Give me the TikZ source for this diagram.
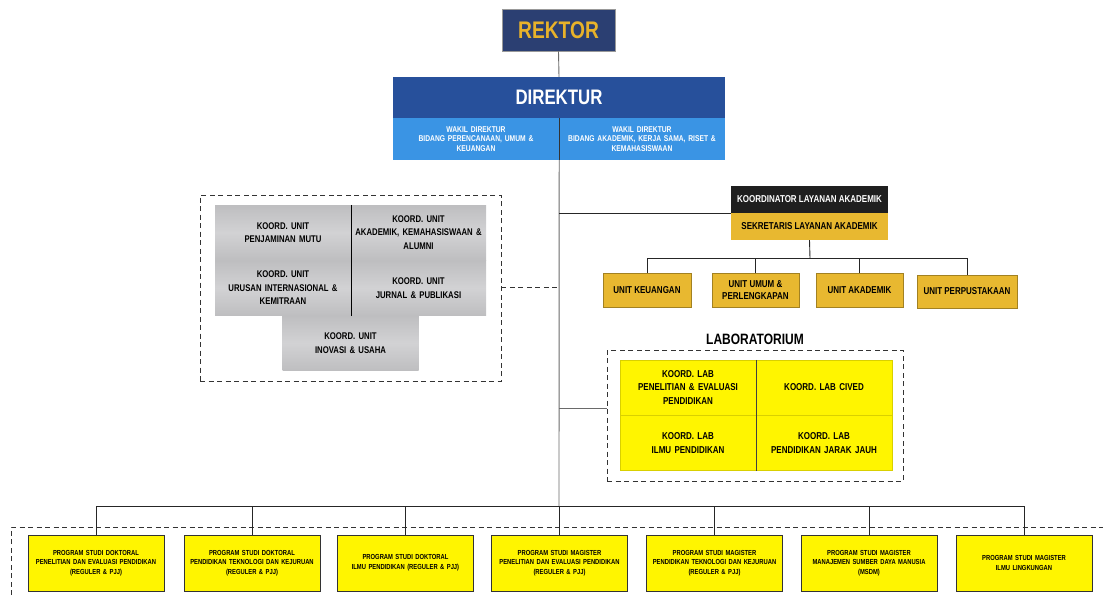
\documentclass[tikz,border=0pt]{standalone}
\usepackage{fontspec}
\setmainfont{Liberation Sans}[FakeStretch=0.8]
\usepackage{tikz}
\usetikzlibrary{positioning}

\definecolor{navy}{HTML}{2B3F72}
\definecolor{dirblue}{HTML}{27509B}
\definecolor{wakblue}{HTML}{3A94E4}
\definecolor{gold}{HTML}{E8B830}
\definecolor{rekgold}{HTML}{E8B22A}
\definecolor{labyel}{HTML}{FFF500}
\definecolor{greyA}{HTML}{BEBEC0}
\definecolor{greyB}{HTML}{D2D2D4}
\definecolor{linegrey}{HTML}{6A6A6A}

\begin{document}
\begin{tikzpicture}[x=1pt,y=-1pt,font=\bfseries]
		\tikzstyle{head}=[inner sep=0pt, align=center]
		\tikzstyle{wakil}=[head, fill=wakblue, text=white, minimum width=166pt, minimum height=42pt, text width=160pt, font=\bfseries\fontsize{8.4}{9.8}\selectfont]
		\tikzstyle{greycell}=[head, top color=greyA, bottom color=greyA, middle color=greyB, minimum width=136pt, minimum height=55pt, text width=132pt, font=\bfseries\fontsize{9.7}{13.5}\selectfont]
		\tikzstyle{unitbox}=[head, fill=gold, draw=gold!70!black, line width=0.4pt, minimum height=34pt, font=\bfseries\fontsize{10}{12}\selectfont]
		\tikzstyle{labcell}=[head, fill=labyel, draw=labyel!85!black, line width=0.4pt, minimum width=136pt, minimum height=55pt, text width=132pt, font=\bfseries\fontsize{10}{13.5}\selectfont]
		\tikzstyle{prodi}=[head, fill=labyel, draw=black!80, line width=0.5pt, minimum width=136pt, minimum height=56pt, text width=134pt, font=\bfseries\fontsize{7.3}{9.8}\selectfont]
		\tikzstyle{frame}=[draw=black!80, dashed, dash pattern=on 5pt off 3.5pt, line width=0.7pt]
		\tikzstyle{link}=[draw=linegrey, line width=0.9pt]

		\useasboundingbox (0,0) rectangle (1103,595);

		\node[head, fill=navy, draw=black!40, line width=0.6pt, minimum width=113pt, minimum height=42pt, text=rekgold, font=\bfseries\fontsize{24}{26}\selectfont] (rektor) at (558.5,30) {REKTOR};
		\node[head, fill=dirblue, minimum width=332pt, minimum height=41pt, text=white, font=\bfseries\fontsize{21}{24}\selectfont] (direktur) at (559,97.5) {DIREKTUR};
		\node[wakil] (wakilL) at (476,139) {WAKIL DIREKTUR\\BIDANG PERENCANAAN, UMUM \&\\KEUANGAN};
		\node[wakil] (wakilR) at (642,139) {WAKIL DIREKTUR\\BIDANG AKADEMIK, KERJA SAMA, RISET \&\\KEMAHASISWAAN};

		\node[frame, minimum width=301pt, minimum height=186pt] (unitframe) at (350.5,288) {};
		\node[greycell] (mutu) at (283,232.5) {KOORD. UNIT\\PENJAMINAN MUTU};
		\node[greycell, minimum width=135pt] (akmh) at (418.5,232.5) {KOORD. UNIT\\AKADEMIK, KEMAHASISWAAN \&\\ALUMNI};
		\node[greycell] (inter) at (283,288) {KOORD. UNIT\\URUSAN INTERNASIONAL \&\\KEMITRAAN};
		\node[greycell, minimum width=135pt] (jurnal) at (418.5,288) {KOORD. UNIT\\JURNAL \& PUBLIKASI};
		\node[greycell] (inovasi) at (350.5,343) {KOORD. UNIT\\INOVASI \& USAHA};
		\draw[black, line width=0.6pt] (mutu.north east) -- (inter.south east);

		\node[head, fill=black!88, minimum width=157pt, minimum height=27pt, text=white, font=\bfseries\fontsize{10}{12}\selectfont] (koord) at (809.5,199.5) {KOORDINATOR LAYANAN AKADEMIK};
		\node[head, fill=gold, minimum width=157pt, minimum height=27pt, font=\bfseries\fontsize{10}{12}\selectfont] (sekr) at (809.5,226.5) {SEKRETARIS LAYANAN AKADEMIK};
		\node[unitbox, minimum width=88pt] (keu) at (647,290) {UNIT KEUANGAN};
		\node[unitbox, minimum width=87pt] (umum) at (755.5,290) {UNIT UMUM \&\\PERLENGKAPAN};
		\node[unitbox, minimum width=87pt] (akad) at (859.5,290) {UNIT AKADEMIK};
		\node[unitbox, minimum width=100pt, minimum height=33pt] (perpus) at (967,291.5) {UNIT PERPUSTAKAAN};

		\node[head, font=\bfseries\fontsize{15}{17}\selectfont] (labtitle) at (755,339) {LABORATORIUM};
		\node[frame, minimum width=296pt, minimum height=131pt] (labframe) at (755,415.5) {};
		\node[labcell] (lab1) at (688,387.5) {KOORD. LAB\\PENELITIAN \& EVALUASI\\PENDIDIKAN};
		\node[labcell] (lab2) at (824,387.5) {KOORD. LAB CIVED};
		\node[labcell] (lab3) at (688,443) {KOORD. LAB\\ILMU PENDIDIKAN};
		\node[labcell] (lab4) at (824,443) {KOORD. LAB\\PENDIDIKAN JARAK JAUH};
		\draw[black!75, line width=0.6pt] (lab1.north east) -- (lab3.south east);

		\node[prodi] (prodi1) at (96,563) {PROGRAM STUDI DOKTORAL\\PENELITIAN DAN EVALUASI PENDIDIKAN\\(REGULER \& PJJ)};
		\node[prodi] (prodi2) at (252,563) {PROGRAM STUDI DOKTORAL\\PENDIDIKAN TEKNOLOGI DAN KEJURUAN\\(REGULER \& PJJ)};
		\node[prodi] (prodi3) at (405.5,563) {PROGRAM STUDI DOKTORAL\\ILMU PENDIDIKAN (REGULER \& PJJ)};
		\node[prodi] (prodi4) at (559.5,563) {PROGRAM STUDI MAGISTER\\PENELITIAN DAN EVALUASI PENDIDIKAN\\(REGULER \& PJJ)};
		\node[prodi] (prodi5) at (714.5,563) {PROGRAM STUDI MAGISTER\\PENDIDIKAN TEKNOLOGI DAN KEJURUAN\\(REGULER \& PJJ)};
		\node[prodi] (prodi6) at (869,563) {PROGRAM STUDI MAGISTER\\MANAJEMEN SUMBER DAYA MANUSIA\\(MSDM)};
		\node[prodi] (prodi7) at (1024,563) {PROGRAM STUDI MAGISTER\\ILMU LINGKUNGAN};
		\draw[frame] (11,595) -- (11,527) -- (1103,527);

		\coordinate (bus) at (559,506);
		\coordinate (ubus) at (810,258);
		\draw[link] (rektor.south) -- (direktur.north);
		\draw[link] (wakilL.south east) -- (bus);
		\draw[black!80, line width=0.6pt] (wakilL.north east) -- (wakilL.south east);
		\draw[link, black!85] (koord.south west) -- (koord.south west -| bus);
		\draw[frame] ([yshift=1pt]unitframe.east) -- ([yshift=1pt]unitframe.east -| bus);
		\draw[link] ([yshift=7.5pt]labframe.west) -- ([yshift=7.5pt]labframe.west -| bus);
		\draw[link, black!85] (sekr.south) -- (ubus);
		\draw[link, black!85] (keu.north |- ubus) -- (perpus.north |- ubus);
		\foreach \u in {keu,umum,akad,perpus}
			\draw[link, black!85] (\u.north) -- (\u.north |- ubus);
		\draw[link, black!85] (prodi1.north |- bus) -- (prodi7.north |- bus);
		\foreach \i in {1,...,7}
			\draw[link, black!85] (prodi\i.north) -- (prodi\i.north |- bus);
	\end{tikzpicture}
\end{document}
